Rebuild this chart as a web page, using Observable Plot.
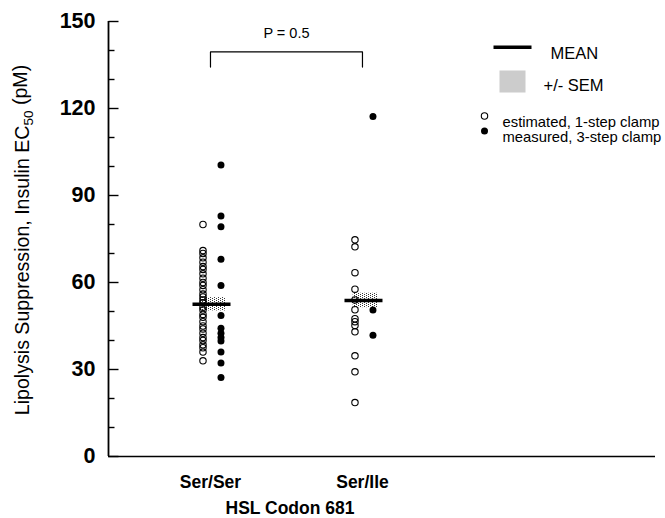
<!DOCTYPE html>
<html><head><meta charset="utf-8">
<script src="https://cdn.jsdelivr.net/npm/d3@7"></script>
<script src="https://cdn.jsdelivr.net/npm/@observablehq/plot@0.6"></script>
<style>body{margin:0;background:#fff;}</style>
</head><body><div id="chart"></div>
<script>
// ---- data ----
const categories = ["Ser/Ser", "Ser/Ile"];
const serSerEstimated = [80, 71, 70, 68.5, 67, 65.5, 64.5, 63, 61.5, 60, 59, 57.5, 56, 55, 54, 53, 51.5, 50.5, 49, 48, 46.5, 45, 44, 42.5, 41, 40, 38.5, 37.5, 36, 33];
const serSerMeasured = [100.5, 82.9, 79.2, 68, 59, 48.6, 44.2, 42.5, 41, 39.8, 36, 32.2, 27.2];
const serIleEstimated = [74.7, 72.3, 63.4, 57.7, 54, 50.6, 47.5, 46.5, 45.2, 43, 34.7, 29.2, 18.6];
const serIleMeasured = [117.2, 50.5, 41.8];
const groupMeans = [52.5, 53.8];
const groupSEMs = [2.3, 2.5];
const yMinorTicks = [0, 10, 20, 30, 40, 50, 60, 70, 80, 90, 100, 110, 120, 130, 140, 150];
const yTickLabels = [0, 30, 60, 90, 120, 150];
const pLabel = "P = 0.5";
const bracketLevels = [134.3, 139.5];
const legendLabels = ["MEAN", "+/- SEM", "estimated, 1-step clamp", "measured, 3-step clamp"];
const xTitle = "HSL Codon 681";

// ---- tables ----
const pos = c => categories.indexOf(c) + 1;
const points = [
  ...serSerEstimated.map(v => ({pos: pos("Ser/Ser"), value: v, kind: "estimated"})),
  ...serSerMeasured.map(v => ({pos: pos("Ser/Ser"), value: v, kind: "measured"})),
  ...serIleEstimated.map(v => ({pos: pos("Ser/Ile"), value: v, kind: "estimated"})),
  ...serIleMeasured.map(v => ({pos: pos("Ser/Ile"), value: v, kind: "measured"}))
];
const stats = categories.map((c, i) => ({pos: i + 1, mean: groupMeans[i], sem: groupSEMs[i]}));
const bracket = [
  {x: 1, y: bracketLevels[0]}, {x: 1, y: bracketLevels[1]},
  {x: 2, y: bracketLevels[1]}, {x: 2, y: bracketLevels[0]}
];
const W = 665, H = 518, ML = 108, MR = 10, MT = 21, MB = 62;
const frameW = W - ML - MR;
const xDomain = [0.329, 3.928];
const minorTicks = yMinorTicks.filter(v => !yTickLabels.includes(v));
const tickRows = [
  ...minorTicks.map(v => ({value: v, major: false})),
  ...yTickLabels.map(v => ({value: v, major: true}))
];
const font = "'Liberation Sans', Arial, sans-serif";

const chart = Plot.plot({
  width: W, height: H,
  marginLeft: ML, marginRight: MR, marginTop: MT, marginBottom: MB,
  style: {fontFamily: font, background: "white", color: "black"},
  x: {domain: xDomain, axis: null},
  y: {domain: [0, 150], axis: null},
  marks: [
    // SEM stipple boxes
    Plot.rect(stats, {x1: d => d.pos - 0.061, x2: d => d.pos + 0.103, y1: d => d.mean - d.sem, y2: d => d.mean + d.sem, fill: "url(#stipple)"}),
    // points
    Plot.dot(points.filter(d => d.kind === "estimated"), {x: "pos", y: "value", r: 3.2, stroke: "black", strokeWidth: 1.1, fill: "none", dx: -7.5}),
    Plot.dot(points.filter(d => d.kind === "measured"), {x: "pos", y: "value", r: 3.5, fill: "black", stroke: "none", dx: 10.5}),
    // mean bars
    Plot.ruleY(stats, {y: "mean", x1: d => d.pos - 0.115, x2: d => d.pos + 0.135, strokeWidth: 3.6}),
    // axes
    Plot.ruleX([xDomain[0]], {x: d => d, strokeWidth: 1.8}),
    Plot.ruleY([0], {y: d => d, strokeWidth: 1.6}),
    Plot.link(tickRows, {
      x1: () => xDomain[0], x2: d => xDomain[0] + (d.major ? 10 : 6) * (xDomain[1] - xDomain[0]) / frameW,
      y1: "value", y2: "value", stroke: "black", strokeWidth: 1.4
    }),
    Plot.axisY(yTickLabels, {anchor: "left", tickSize: 0, tickPadding: 13, fontSize: 21.5, fontWeight: "bold"}),
    Plot.axisX([1, 2], {anchor: "bottom", tickSize: 0, tickPadding: 19, tickFormat: i => categories[i - 1], fontSize: 17.5, fontWeight: "bold"}),
    Plot.text([xTitle], {frameAnchor: "bottom", dx: -92, dy: 57, fontSize: 17.5, fontWeight: "bold"}),
    // p-value bracket
    Plot.line(bracket, {x: "x", y: "y", strokeWidth: 1.2}),
    Plot.text([pLabel], {x: () => 1.5, y: () => bracketLevels[1], dy: -19, fontSize: 14.5}),
    // legend
    Plot.frame({fill: "black", stroke: "none", insetLeft: 385, insetRight: 124, insetTop: 24, insetBottom: 407.5}),
    Plot.frame({fill: "url(#stipple)", stroke: "none", insetLeft: 391, insetRight: 130, insetTop: 49, insetBottom: 364}),
    Plot.text([legendLabels[0]], {frameAnchor: "top-left", dx: 442, dy: 26, textAnchor: "start", fontSize: 16.5}),
    Plot.text([legendLabels[1]], {frameAnchor: "top-left", dx: 435, dy: 58, textAnchor: "start", fontSize: 16.5}),
    Plot.dot([0], {frameAnchor: "top-left", dx: 376, dy: 94.5, r: 3.2, stroke: "black", strokeWidth: 1.1, fill: "none"}),
    Plot.dot([0], {frameAnchor: "top-left", dx: 376, dy: 109.5, r: 3.5, fill: "black", stroke: "none"}),
    Plot.text([legendLabels[2]], {frameAnchor: "top-left", dx: 394, dy: 94.5, textAnchor: "start", fontSize: 14.8}),
    Plot.text([legendLabels[3]], {frameAnchor: "top-left", dx: 394, dy: 109.5, textAnchor: "start", fontSize: 14.8})
  ]
});

const svg = d3.select(chart);
svg.insert("defs", ":first-child").html(
  '<pattern id="stipple" width="4" height="2" patternUnits="userSpaceOnUse">' +
  '<rect x="0" y="0" width="1" height="1" fill="#333"/><rect x="2" y="1" width="1" height="1" fill="#333"/></pattern>');

const title = svg.append("text")
  .attr("transform", "translate(22,240) rotate(-90)")
  .attr("text-anchor", "middle")
  .attr("dy", "0.35em")
  .attr("font-family", font)
  .attr("font-size", 19.6)
  .attr("fill", "black");
title.append("tspan").text("Lipolysis Suppression, Insulin EC");
title.append("tspan").attr("font-size", 13.5).attr("dy", "0.3em").text("50");
title.append("tspan").attr("dy", "-0.3em").text(" (pM)");

document.getElementById("chart").appendChild(chart);
</script>
</body></html>
